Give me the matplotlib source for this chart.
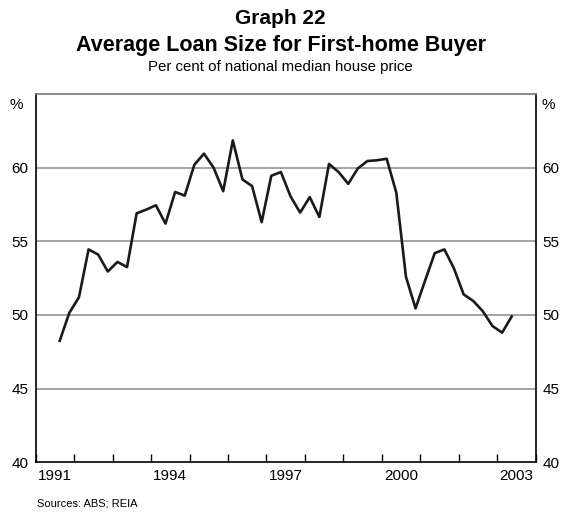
import numpy as np
import matplotlib.pyplot as plt

plt.rcParams['font.family'] = ['Liberation Sans', 'DejaVu Sans']

# quarterly observations, Sep qtr 1991 to Jun qtr 2003
start_year = 1991
start_qtr = 3
loan_share = [48.25, 50.15, 51.2, 54.45, 54.1, 52.95, 53.6, 53.25,
              56.9, 57.15, 57.45, 56.2, 58.35, 58.1, 60.2, 60.95,
              60.0, 58.4, 61.85, 59.2, 58.75, 56.3, 59.45, 59.7,
              58.05, 56.95, 58.0, 56.65, 60.25, 59.7, 58.9, 59.95,
              60.45, 60.5, 60.6, 58.3, 52.6, 50.45, 52.35, 54.2,
              54.45, 53.15, 51.4, 50.95, 50.25, 49.25, 48.8, 49.9]
year_labels = [1991, 1994, 1997, 2000, 2003]
y_ticks = [40, 45, 50, 55, 60]

# plot each quarter at its mid point
n = len(loan_share)
x = start_year + (start_qtr - 1) * 0.25 + 0.125 + 0.25 * np.arange(n)

fig = plt.figure(figsize=(5.61, 5.13), dpi=100)
ax = fig.add_axes([0.0636, 0.0988, 0.8914, 0.718])

ax.plot(x, loan_share, color='#1a1a1a', lw=1.9, zorder=3)

ax.set_xlim(1991, 2004)
ax.set_ylim(40, 65)

ax.set_xticks(np.arange(1991, 2005))
ax.set_xticklabels([])
ax.set_xticks([y + 0.5 for y in year_labels], minor=True)
ax.set_xticklabels([str(y) for y in year_labels], minor=True)
ax.tick_params(axis='x', which='major', direction='in', length=6, width=1, color='black')
ax.tick_params(axis='x', which='minor', length=0, pad=5, labelsize=11)

ax.set_yticks(y_ticks)
ax.tick_params(axis='y', length=0, labelsize=11, labelright=True, pad=5)
for v in y_ticks[1:]:
    ax.axhline(v, color='#8c8c8c', lw=1.1, zorder=1)

for side in ['left', 'right', 'bottom']:
    ax.spines[side].set_color('black')
    ax.spines[side].set_linewidth(1.2)
ax.spines['top'].set_color('#7a7a7a')
ax.spines['top'].set_linewidth(1.2)

ax.text(-0.025, 0.97, '%', transform=ax.transAxes, ha='right', va='center', fontsize=11)
ax.text(1.012, 0.97, '%', transform=ax.transAxes, ha='left', va='center', fontsize=11)

fig.text(0.5, 0.963, 'Graph 22', ha='center', va='center', fontsize=15, fontweight='bold')
fig.text(0.5, 0.911, 'Average Loan Size for First-home Buyer', ha='center', va='center',
         fontsize=15.5, fontweight='bold')
fig.text(0.5, 0.869, 'Per cent of national median house price', ha='center', va='center',
         fontsize=10.8)
fig.text(0.066, 0.019, 'Sources: ABS; REIA', ha='left', va='center', fontsize=8)

fig.savefig('out.png', dpi=100)
